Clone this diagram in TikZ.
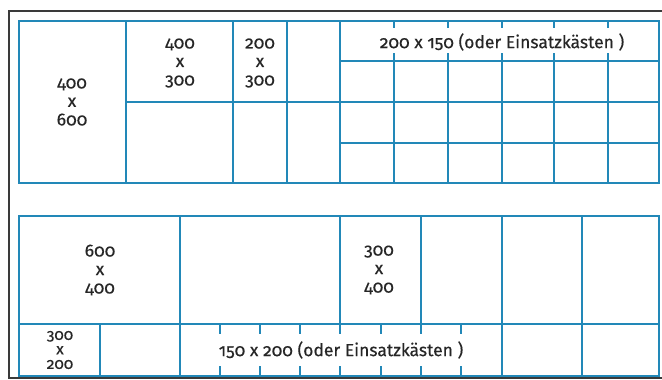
\documentclass[tikz,border=0pt]{standalone}
\usepackage{fontspec}
\setmainfont{Fira Sans}[Numbers=OldStyle]
\newfontfamily\lblfont{Fira Sans}[Numbers=OldStyle, FakeBold=0.35]
\definecolor{gridblue}{HTML}{2288B8}
\definecolor{framegray}{HTML}{3A3A3A}
\definecolor{txt}{HTML}{262626}
\begin{document}
\begin{tikzpicture}[x=1pt,y=-1pt,
  g/.style={draw=gridblue, line width=1.8pt},
  lbl/.style={font=\lblfont\fontsize{17.5}{18.5}\selectfont, text=txt, align=center, inner sep=0pt},
  lbls/.style={font=\lblfont\fontsize{15.5}{14.5}\selectfont, text=txt, align=center, inner sep=0pt}]
\useasboundingbox (0,0) rectangle (662,380);
\fill[white] (0,0) rectangle (662,380);
\draw[framegray, line width=1.6pt] (663,11) -- (9,11) -- (9,378) -- (663,378);
% top block
\draw[g] (19,21) rectangle (659,183);
\foreach \x in {126,233,287,340} \draw[g] (\x,21) -- (\x,183);
\draw[g] (126,102) -- (659,102);
\draw[g] (340,61) -- (659,61);
\draw[g] (340,143) -- (659,143);
\foreach \x in {394,448,502,554,608} {
  \draw[g] (\x,61) -- (\x,183);
  \draw[g] (\x,21) -- (\x,28);
  \draw[g] (\x,53) -- (\x,61);
}
% lower block
\draw[g] (19,216) rectangle (659,376);
\draw[g] (19,324) -- (659,324);
\foreach \x in {180,502,582} \draw[g] (\x,216) -- (\x,376);
\draw[g] (100,324) -- (100,376);
\foreach \x in {340,421} \draw[g] (\x,216) -- (\x,324);
\foreach \x in {220,260,300,340,381,421,461} {
  \draw[g] (\x,324) -- (\x,334);
  \draw[g] (\x,366) -- (\x,376);
}
% labels
\node[lbl] (a) at (72,102) {400\\x\\600};
\node[lbl] (b) at (180,63) {400\\x\\300};
\node[lbl] (c) at (260,63) {200\\x\\300};
\node[lbl] (d) at (502,42) {200 x 150 (oder Einsatzkästen )};
\node[lbl] (e) at (100,270) {600\\x\\400};
\node[lbl] (f) at (379,270) {300\\x\\400};
\node[lbls] (h) at (60,350) {300\\x\\200};
\node[lbl] (i) at (341,350) {150 x 200 (oder Einsatzkästen )};
\end{tikzpicture}
\end{document}
